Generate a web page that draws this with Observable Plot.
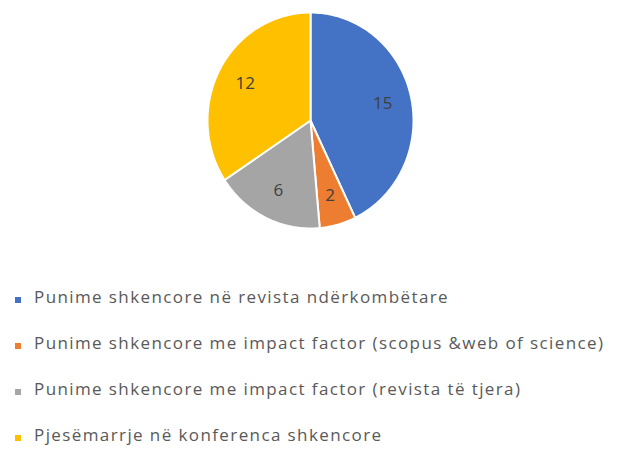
<!DOCTYPE html>
<html>
<head>
<meta charset="utf-8">
<script src="https://cdn.jsdelivr.net/npm/d3@7"></script>
<script src="https://cdn.jsdelivr.net/npm/@observablehq/plot@0.6"></script>
<style>
  html, body { margin: 0; padding: 0; background: #fff; }
  #wrap { width: 618px; height: 449px; position: relative; overflow: hidden; }
  .legend { position: absolute; left: 0; top: 254px; font-family: "Open Sans", sans-serif; font-size: 17px; color: #595959; }
  .row { height: 46px; position: relative; }
  .sw { position: absolute; left: 15px; width: 6px; height: 6px; top: 43px; }
  .lab { position: absolute; left: 34px; top: 31px; white-space: nowrap; letter-spacing: 1.4px; }
</style>
</head>
<body>
<div id="wrap"></div>
<script>
const categories = [
  "Punime shkencore në revista ndërkombëtare",
  "Punime shkencore me impact factor (scopus &web of science)",
  "Punime shkencore me impact factor (revista të tjera)",
  "Pjesëmarrje në konferenca shkencore"
];
const values = [15, 2, 6, 12];
const colors = ["#4472C4", "#ED7D31", "#A5A5A5", "#FFC000"];

const data = categories.map((c, i) => ({category: c, value: values[i]}));
const arcs = d3.pie().sort(null).value(d => d.value)(data);

// polygon points for each slice in unit-circle coordinates (angle 0 at top, clockwise)
const pts = [];
arcs.forEach(a => {
  const c = a.data.category;
  pts.push({category: c, x: 0, y: 0});
  const n = Math.max(2, Math.ceil((a.endAngle - a.startAngle) / (Math.PI / 180)));
  for (let k = 0; k <= n; k++) {
    const t = a.startAngle + (a.endAngle - a.startAngle) * k / n;
    pts.push({category: c, x: Math.sin(t), y: Math.cos(t)});
  }
  pts.push({category: c, x: 0, y: 0});
});
const labelR = 0.72;
const labels = arcs.map(a => {
  const m = (a.startAngle + a.endAngle) / 2;
  return {category: a.data.category, value: a.data.value, x: labelR * Math.sin(m), y: labelR * Math.cos(m)};
});

const chart = Plot.plot({
  width: 618,
  height: 250,
  margin: 0,
  x: {domain: [-1, 1], range: [207, 413], axis: null},
  y: {domain: [-1, 1], range: [228, 12], axis: null},
  color: {domain: categories, range: colors},
  marks: [
    Plot.line(pts, {x: "x", y: "y", z: "category", fill: "category", stroke: "white", strokeWidth: 2, strokeLinejoin: "round", curve: "linear"}),
    Plot.text(labels, {x: "x", y: "y", text: d => String(d.value), fill: "#404040", fontSize: 17, fontFamily: "Open Sans, sans-serif"})
  ]
});
chart.style.position = "absolute";
chart.style.left = "0px";
chart.style.top = "0px";
const wrap = document.getElementById("wrap");
wrap.appendChild(chart);

const legend = document.createElement("div");
legend.className = "legend";
categories.forEach((c, i) => {
  const row = document.createElement("div");
  row.className = "row";
  const sw = document.createElement("span");
  sw.className = "sw";
  sw.style.background = colors[i];
  const lab = document.createElement("span");
  lab.className = "lab";
  lab.textContent = c;
  row.appendChild(sw);
  row.appendChild(lab);
  legend.appendChild(row);
});
wrap.appendChild(legend);
</script>
</body>
</html>
